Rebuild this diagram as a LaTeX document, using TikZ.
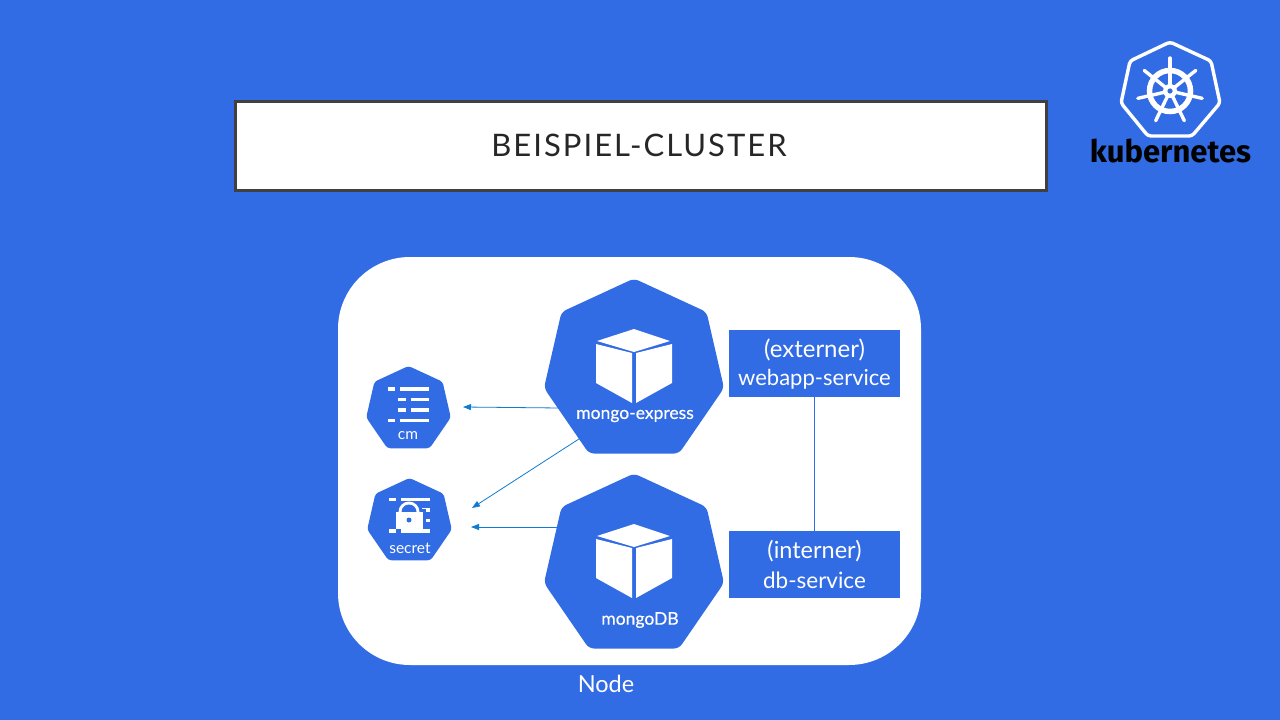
\documentclass[tikz,border=0pt]{standalone}
\usepackage{fontspec}
\setmainfont{Lato}
\newfontfamily\logofont{Fira Sans}
\newfontfamily\medfont[FakeBold=0.35]{Lato}
\newfontfamily\titlefont[LetterSpace=6.5]{Lato}
\usetikzlibrary{arrows.meta}
\definecolor{kblue}{HTML}{326CE5}
\definecolor{kline}{HTML}{0F7CD2}
\definecolor{kborder}{HTML}{404040}
\tikzset{
  x=1pt,y=-1pt,
  heptfill/.style={fill=kblue,rounded corners=#1},
  lab/.style={text=white,inner sep=0pt,align=center},
  svcbox/.style={rectangle,fill=kblue,minimum width=171pt,minimum height=67pt,inner sep=0pt},
  svctext/.style={text=white,inner sep=0pt},
  conn/.style={draw=kline,line width=.8pt,-{Triangle[length=8pt,width=6pt]}},
  whitebar/.style={fill=white,draw=none},
}
\newcommand{\heptpath}{(0,-108.5) -- (72.5,-75) -- (90,1) -- (45,66.5) -- (-45,66.5) -- (-90,1) -- (-72.5,-75) -- cycle}
\newcommand{\barrow}[3]{\fill[whitebar] (#1,#3-1.9) rectangle (#2,#3+1.9);}
\begin{document}
\begin{tikzpicture}
\useasboundingbox (0,0) rectangle (1280,720);
\fill[kblue] (0,0) rectangle (1280,720);

% title
\node[draw=kborder,line width=3pt,fill=white,minimum width=811pt,minimum height=89pt,inner sep=0pt] (title) at (640.5,145.5) {};
\node[inner sep=0pt,font=\fontsize{31}{36}\selectfont\titlefont,text=black!85] (titletext) at (639,145.5) {BEISPIEL-CLUSTER};

% logo
\draw[white,line width=3.4pt,rounded corners=3pt,line join=round]
  (1170,42) -- (1211,61) -- (1220,103) -- (1192,136) -- (1148,136) -- (1121,103) -- (1130,61) -- cycle;
\draw[white,line width=5.5pt] (1170,91) circle[radius=20.5pt];
\foreach \a in {90,141.43,192.86,244.29,295.71,347.14,38.57}{
  \draw[white,line width=3.4pt,line cap=round] (1170,91) -- ++(\a:33pt);
}
\fill[white] (1170,91) circle[radius=7pt];
\fill[kblue] (1170,91) circle[radius=2.6pt];
\node[inner sep=0pt,text=black,font=\fontsize{31}{36}\selectfont\logofont\bfseries] (logo) at (1170.5,151) {kubernetes};

% cluster node
\node[fill=white,rounded corners=72pt,minimum width=583pt,minimum height=408pt,inner sep=0pt] (cluster) at (629.5,461) {};
\node[lab,font=\fontsize{23.5}{28}\selectfont] (nodelabel) at (606,684) {Node};

% mongo-express
\fill[heptfill=5pt,shift={(634,387)}] \heptpath;
\fill[white] (634,329) -- (670,341) -- (634,352) -- (597,341) -- cycle;
\fill[white] (596,344) -- (632,353) -- (632,403) -- (596,383) -- cycle;
\fill[white] (636,353) -- (672,344) -- (672,383) -- (636,403) -- cycle;
\node[lab,font=\fontsize{17.5}{20}\selectfont\medfont] (express) at (635,416) {mongo-express};

% mongoDB
\fill[heptfill=5pt,shift={(634,582)}] \heptpath;
\fill[white] (634,524) -- (670,536) -- (634,547) -- (597,536) -- cycle;
\fill[white] (596,539) -- (632,548) -- (632,598) -- (596,578) -- cycle;
\fill[white] (636,548) -- (672,539) -- (672,578) -- (636,598) -- cycle;
\node[lab,font=\fontsize{17.5}{20}\selectfont\medfont] (mongodb) at (640,620) {mongoDB};

% cm
\fill[heptfill=3pt,shift={(408.5,417)},scale=.47] \heptpath;
\barrow{388}{395}{389}\barrow{400}{429}{389}
\barrow{398}{406}{399.5}\barrow{411}{429}{399.5}
\barrow{398}{406}{410}\barrow{411}{429}{410}
\barrow{388}{395}{420.5}\barrow{400}{429}{420.5}
\node[lab,font=\fontsize{15.5}{18}\selectfont] (cm) at (408,436) {cm};

% secret
\fill[heptfill=3pt,shift={(409.5,529)},scale=.47] \heptpath;
\barrow{399}{407}{510}\barrow{422}{430}{510}
\barrow{424}{430}{520.5}
\fill[kblue] (393,509) rectangle (426,532);
\fill[kblue] (409,512) circle[radius=12pt];
\fill[white] (409,512) circle[radius=10.5pt];
\fill[kblue] (409,512) circle[radius=7.5pt];
\fill[white] (396,512) rectangle (423,529);
\fill[kblue] (409,520) circle[radius=2.5pt];
\barrow{389}{396}{499.5}\barrow{401}{430}{499.5}
\barrow{389}{396}{531}\barrow{401}{430}{531}
\node[lab,font=\fontsize{15.5}{18}\selectfont] (secret) at (410,548) {secret};

% services
\node[svcbox] (webapp) at (814.5,363.5) {};
\node[svcbox] (dbsvc) at (814.5,564.5) {};
\node[svctext,font=\fontsize{24}{29}\selectfont] (ext) at (814.5,350) {(externer)};
\node[svctext,font=\fontsize{22}{29}\selectfont] (web) at (814.5,379) {webapp-service};
\node[svctext,font=\fontsize{23.5}{29}\selectfont] (int) at (814.5,551) {(interner)};
\node[svctext,font=\fontsize{22.5}{29}\selectfont] (dbt) at (814.5,580) {db-service};
\draw[kblue,line width=1pt] (webapp) -- (dbsvc);

% connectors
\coordinate (expressL) at (560,408);
\coordinate (expressLL) at (582,437);
\coordinate (mongoL) at (558,527);
\coordinate (cmT) at (463,407);
\coordinate (secretT) at (472,508);
\coordinate (secretTb) at (471,527);
\draw[conn] (expressL) -- (cmT);
\draw[conn] (expressLL) -- (secretT);
\draw[conn] (mongoL) -- (secretTb);
\end{tikzpicture}
\end{document}
